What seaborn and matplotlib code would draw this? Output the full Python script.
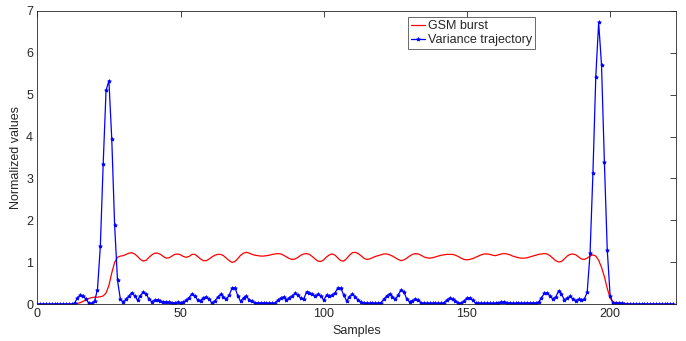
import numpy as np
import pandas as pd
import matplotlib
matplotlib.use("Agg")
import matplotlib.pyplot as plt
import seaborn as sns

# ---- data ----
variance = [
    0, 0, 0, 0, 0, 0, 0, 0, 0, 0,            # 0-9
    0, 0, 0, 0.03, 0.15, 0.22, 0.21, 0.12, 0.03, 0.02,   # 10-19
    0.08, 0.35, 1.38, 3.35, 5.10, 5.33, 3.93, 1.88, 0.57, 0.12,  # 20-29
    0.05, 0.12, 0.20, 0.28, 0.20, 0.10, 0.21, 0.29, 0.25, 0.12,  # 30-39
    0.06, 0.10, 0.11, 0.07, 0.06, 0.06, 0.05, 0.04, 0.04, 0.05,  # 40-49
    0.04, 0.05, 0.10, 0.16, 0.25, 0.20, 0.10, 0.09, 0.15, 0.18,  # 50-59
    0.12, 0.03, 0.08, 0.17, 0.24, 0.18, 0.12, 0.22, 0.39, 0.40,  # 60-69
    0.20, 0.07, 0.16, 0.20, 0.10, 0.08, 0.04, 0.03, 0.03, 0.03,  # 70-79
    0.02, 0.03, 0.02, 0.03, 0.10, 0.15, 0.18, 0.10, 0.16, 0.20,  # 80-89
    0.26, 0.22, 0.14, 0.12, 0.30, 0.28, 0.24, 0.20, 0.24, 0.20,  # 90-99
    0.10, 0.22, 0.20, 0.22, 0.28, 0.40, 0.38, 0.22, 0.08, 0.18,  # 100-109
    0.25, 0.18, 0.10, 0.05, 0.03, 0.03, 0.02, 0.03, 0.02, 0.03,  # 110-119
    0.04, 0.12, 0.20, 0.25, 0.18, 0.12, 0.22, 0.35, 0.30, 0.12,  # 120-129
    0.06, 0.09, 0.13, 0.10, 0.04, 0.02, 0.02, 0.02, 0.02, 0.02,  # 130-139
    0.02, 0.02, 0.04, 0.10, 0.15, 0.12, 0.08, 0.04, 0.03, 0.08,  # 140-149
    0.15, 0.16, 0.10, 0.03, 0.02, 0.02, 0.02, 0.02, 0.02, 0.02,  # 150-159
    0.02, 0.04, 0.05, 0.06, 0.04, 0.03, 0.02, 0.02, 0.03, 0.02,  # 160-169
    0.02, 0.03, 0.02, 0.03, 0.03, 0.05, 0.15, 0.26, 0.28, 0.20,  # 170-179
    0.13, 0.17, 0.32, 0.24, 0.11, 0.14, 0.19, 0.13, 0.09, 0.12,  # 180-189
    0.10, 0.12, 0.29, 1.22, 3.13, 5.43, 6.72, 5.70, 3.39, 1.30,  # 190-199
    0.21, 0.02, 0.02, 0.03, 0.02, 0.01, 0, 0, 0, 0,              # 200-209
    0, 0, 0, 0, 0, 0, 0, 0, 0, 0,                                # 210-219
    0, 0, 0,                                                     # 220-222
]

gsm_burst = [
    0, 0, 0, 0, 0, 0, 0, 0, 0, 0,                                # 0-9
    0, 0, 0, 0.01, 0.02, 0.04, 0.07, 0.11, 0.14, 0.16,           # 10-19
    0.17, 0.17, 0.18, 0.20, 0.27, 0.45, 0.75, 1.00, 1.12, 1.15,  # 20-29
    1.16, 1.19, 1.22, 1.23, 1.20, 1.14, 1.07, 1.03, 1.05, 1.12,  # 30-39
    1.18, 1.22, 1.22, 1.19, 1.14, 1.10, 1.11, 1.15, 1.19, 1.20,  # 40-49
    1.18, 1.14, 1.12, 1.14, 1.19, 1.19, 1.14, 1.08, 1.04, 1.04,  # 50-59
    1.08, 1.13, 1.17, 1.19, 1.19, 1.16, 1.10, 1.04, 1.00, 1.02,  # 60-69
    1.09, 1.17, 1.22, 1.24, 1.22, 1.19, 1.17, 1.16, 1.15, 1.15,  # 70-79
    1.16, 1.17, 1.19, 1.20, 1.21, 1.20, 1.17, 1.13, 1.09, 1.07,  # 80-89
    1.08, 1.12, 1.17, 1.20, 1.21, 1.19, 1.14, 1.08, 1.03, 1.02,  # 90-99
    1.06, 1.13, 1.18, 1.20, 1.17, 1.10, 1.04, 1.03, 1.09, 1.17,  # 100-109
    1.23, 1.24, 1.21, 1.16, 1.10, 1.07, 1.08, 1.11, 1.14, 1.16,  # 110-119
    1.18, 1.20, 1.20, 1.18, 1.15, 1.11, 1.07, 1.04, 1.06, 1.10,  # 120-129
    1.15, 1.19, 1.21, 1.20, 1.17, 1.13, 1.11, 1.10, 1.11, 1.13,  # 130-139
    1.15, 1.17, 1.18, 1.19, 1.19, 1.19, 1.17, 1.14, 1.10, 1.07,  # 140-149
    1.06, 1.07, 1.09, 1.12, 1.15, 1.18, 1.20, 1.20, 1.19, 1.17,  # 150-159
    1.16, 1.18, 1.20, 1.21, 1.20, 1.18, 1.15, 1.13, 1.11, 1.10,  # 160-169
    1.10, 1.11, 1.13, 1.15, 1.17, 1.19, 1.20, 1.21, 1.20, 1.16,  # 170-179
    1.10, 1.04, 1.01, 1.02, 1.08, 1.15, 1.19, 1.20, 1.18, 1.13,  # 180-189
    1.08, 1.07, 1.10, 1.15, 1.18, 1.15, 1.05, 0.88, 0.66, 0.38,  # 190-199
    0.15, 0.06, 0.04, 0.03, 0.03, 0.02, 0.02, 0.01, 0, 0,        # 200-209
    0, 0, 0, 0, 0, 0, 0, 0, 0, 0,                                # 210-219
    0, 0, 0,                                                     # 220-222
]

samples = list(range(len(variance)))
x_ticks = [0, 50, 100, 150, 200]
y_ticks = [0, 1, 2, 3, 4, 5, 6, 7]

df = pd.DataFrame({"Samples": samples, "gsm": gsm_burst, "var": variance})

# ---- style ----
sns.set_style("white")
plt.rcParams["font.family"] = ["Liberation Sans", "DejaVu Sans"]

fig = plt.figure(figsize=(6.86, 3.41), dpi=100)
ax = fig.add_axes([0.0544, 0.1076, 0.9310, 0.8610])

sns.lineplot(data=df, x="Samples", y="gsm", ax=ax, color=(1, 0, 0),
             linewidth=0.9, label="GSM burst")
sns.lineplot(data=df, x="Samples", y="var", ax=ax, color=(0, 0, 1),
             linewidth=0.9, marker="*", markersize=2.8, markeredgewidth=0.6,
             markeredgecolor=(0, 0, 1), label="Variance trajectory")

ax.set_xlim(0, 223)
ax.set_ylim(0, 7)
ax.set_xticks(x_ticks)
ax.set_yticks(y_ticks)
ax.set_xlabel("Samples", fontsize=9, labelpad=3)
ax.set_ylabel("Normalized values", fontsize=9, labelpad=3)
ax.tick_params(direction="in", length=4, width=0.6, colors="#262626",
               labelsize=9, top=True, right=True, pad=3)
for s in ax.spines.values():
    s.set_color("#262626")
    s.set_linewidth(0.6)
    s.set_visible(True)

leg = ax.legend(loc="upper left", bbox_to_anchor=(0.580, 0.978),
                fontsize=9, frameon=True, fancybox=False, borderpad=0.25,
                handlelength=1.1, handletextpad=0.25, labelspacing=0.15,
                borderaxespad=0)
leg.get_frame().set_edgecolor("#262626")
leg.get_frame().set_linewidth(0.6)

fig.savefig("out.png", dpi=100)
